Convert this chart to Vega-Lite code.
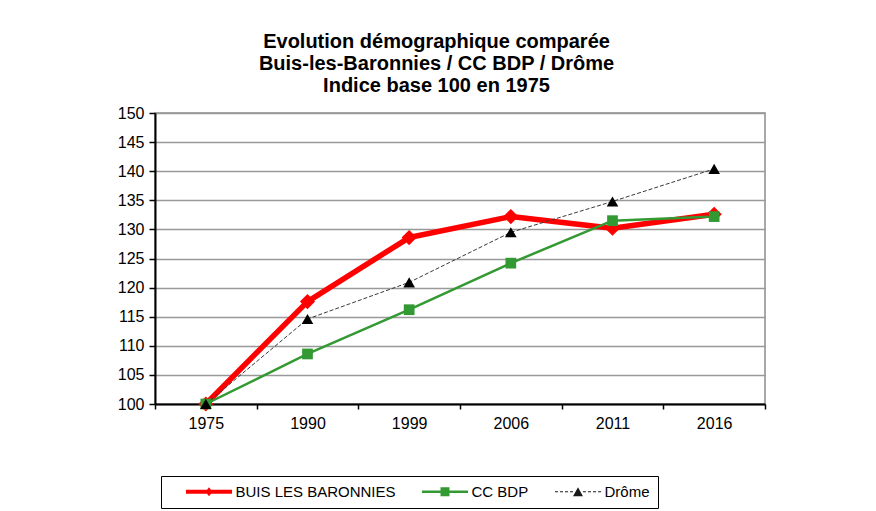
{
  "$schema": "https://vega.github.io/schema/vega-lite/v6.json",
  "width": 610,
  "height": 291,
  "autosize": {"type": "none"},
  "padding": {"left": 155, "top": 113, "right": 111, "bottom": 107},
  "background": "white",
  "title": {
    "text": ["Evolution démographique comparée", "Buis-les-Baronnies / CC BDP / Drôme", "Indice base 100 en 1975"],
    "font": "Liberation Sans",
    "fontSize": 20,
    "fontWeight": "bold",
    "lineHeight": 22,
    "anchor": "middle",
    "frame": "bounds",
    "color": "#000000",
    "offset": 9,
    "dx": -5
  },
  "config": {
    "view": {"stroke": "#8c8c8c", "strokeWidth": 1.5},
    "axis": {"labelFont": "Liberation Sans", "labelFontSize": 16, "labelColor": "#000000"}
  },
  "data": {
    "values": [
      {"annee": "1975", "serie": "BUIS LES BARONNIES", "indice": 100},
      {"annee": "1990", "serie": "BUIS LES BARONNIES", "indice": 117.6},
      {"annee": "1999", "serie": "BUIS LES BARONNIES", "indice": 128.6},
      {"annee": "2006", "serie": "BUIS LES BARONNIES", "indice": 132.2},
      {"annee": "2011", "serie": "BUIS LES BARONNIES", "indice": 130.2},
      {"annee": "2016", "serie": "BUIS LES BARONNIES", "indice": 132.6},
      {"annee": "1975", "serie": "CC BDP", "indice": 100},
      {"annee": "1990", "serie": "CC BDP", "indice": 108.6},
      {"annee": "1999", "serie": "CC BDP", "indice": 116.2},
      {"annee": "2006", "serie": "CC BDP", "indice": 124.2},
      {"annee": "2011", "serie": "CC BDP", "indice": 131.5},
      {"annee": "2016", "serie": "CC BDP", "indice": 132.2},
      {"annee": "1975", "serie": "Drôme", "indice": 100},
      {"annee": "1990", "serie": "Drôme", "indice": 114.6},
      {"annee": "1999", "serie": "Drôme", "indice": 120.9},
      {"annee": "2006", "serie": "Drôme", "indice": 129.5},
      {"annee": "2011", "serie": "Drôme", "indice": 134.8},
      {"annee": "2016", "serie": "Drôme", "indice": 140.4}
    ]
  },
  "encoding": {
    "x": {
      "field": "annee",
      "type": "ordinal",
      "bandPosition": 0.5,
      "scale": {"type": "band", "paddingInner": 0, "paddingOuter": 0},
      "axis": {
        "title": null,
        "labelAngle": 0,
        "tickBand": "extent",
        "domainColor": "#000000",
        "domainWidth": 2,
        "tickColor": "#000000",
        "tickWidth": 1.5,
        "tickSize": 5,
        "labelPadding": 6
      }
    },
    "y": {
      "field": "indice",
      "type": "quantitative",
      "scale": {"domain": [100, 150], "nice": false, "zero": false},
      "axis": {
        "title": null,
        "values": [100, 105, 110, 115, 120, 125, 130, 135, 140, 145, 150],
        "grid": true,
        "gridColor": "#999999",
        "gridWidth": 1.3,
        "domainColor": "#000000",
        "domainWidth": 2,
        "tickColor": "#000000",
        "tickWidth": 1.5,
        "tickSize": 6,
        "labelPadding": 5
      }
    }
  },
  "layer": [
    {
      "transform": [{"filter": "datum.serie === 'BUIS LES BARONNIES'"}],
      "mark": {"type": "line", "strokeJoin": "round", "color": "#ff0000", "strokeWidth": 5.5}
    },
    {
      "transform": [{"filter": "datum.serie === 'CC BDP'"}],
      "mark": {"type": "line", "strokeJoin": "round", "color": "#339933", "strokeWidth": 2.5}
    },
    {
      "transform": [{"filter": "datum.serie === 'Drôme'"}],
      "mark": {"type": "line", "color": "#3a3a3a", "strokeWidth": 1, "strokeDash": [4, 2]}
    },
    {
      "transform": [{"filter": "datum.serie === 'BUIS LES BARONNIES'"}],
      "mark": {"type": "point", "shape": "diamond", "filled": true, "size": 230, "opacity": 1, "color": "#ff0000"}
    },
    {
      "transform": [{"filter": "datum.serie === 'CC BDP'"}],
      "mark": {"type": "point", "shape": "square", "filled": true, "size": 115, "opacity": 1, "color": "#339933"}
    },
    {
      "transform": [{"filter": "datum.serie === 'Drôme'"}],
      "mark": {"type": "point", "shape": "triangle-up", "filled": true, "size": 135, "opacity": 1, "color": "#000000"}
    },
    {
      "mark": {"type": "point", "filled": true, "opacity": 0},
      "encoding": {
        "color": {
          "field": "serie", "type": "nominal",
          "scale": {"domain": ["BUIS LES BARONNIES", "CC BDP", "Drôme"], "range": ["#ff0000", "#339933", "#1a1a1a"]},
          "legend": {"title": null, "orient": "none", "legendX": 6, "legendY": 363, "direction": "horizontal", "strokeColor": "#000000", "fillColor": "#ffffff", "padding": 8, "symbolSize": 196, "symbolStrokeWidth": 0, "symbolOpacity": 1, "symbolOffset": 32.5, "labelOffset": 19, "labelLimit": 400, "columnPadding": 9, "labelFont": "Liberation Sans", "labelFontSize": 15, "labelColor": "#000000"}
        },
        "shape": {
          "field": "serie", "type": "nominal",
          "scale": {
            "domain": ["BUIS LES BARONNIES", "CC BDP", "Drôme"],
            "range": [
              "M-3.29,-0.29H3.29V0.29H-3.29Z M0,-0.64L0.5,0L0,0.64L-0.5,0Z",
              "M-3.29,-0.18H3.29V0.18H-3.29Z M-0.64,-0.64H0.64V0.64H-0.64Z",
              "M-3.29,-0.07H-2.86V0.07H-3.29Z M-2.57,-0.07H-2.14V0.07H-2.57Z M-1.86,-0.07H-1.43V0.07H-1.86Z M-1.14,-0.07H-0.71V0.07H-1.14Z M0.71,-0.07H1.14V0.07H0.71Z M1.43,-0.07H1.86V0.07H1.43Z M2.14,-0.07H2.57V0.07H2.14Z M2.86,-0.07H3.29V0.07H2.86Z M0,-0.64L0.71,0.64L-0.71,0.64Z"
            ]
          },
          "legend": {"title": null, "orient": "none", "legendX": 6, "legendY": 363, "direction": "horizontal", "strokeColor": "#000000", "fillColor": "#ffffff", "padding": 8, "symbolSize": 196, "symbolStrokeWidth": 0, "symbolOpacity": 1, "symbolOffset": 32.5, "labelOffset": 19, "labelLimit": 400, "columnPadding": 9, "labelFont": "Liberation Sans", "labelFontSize": 15, "labelColor": "#000000"}
        }
      }
    }
  ]
}
